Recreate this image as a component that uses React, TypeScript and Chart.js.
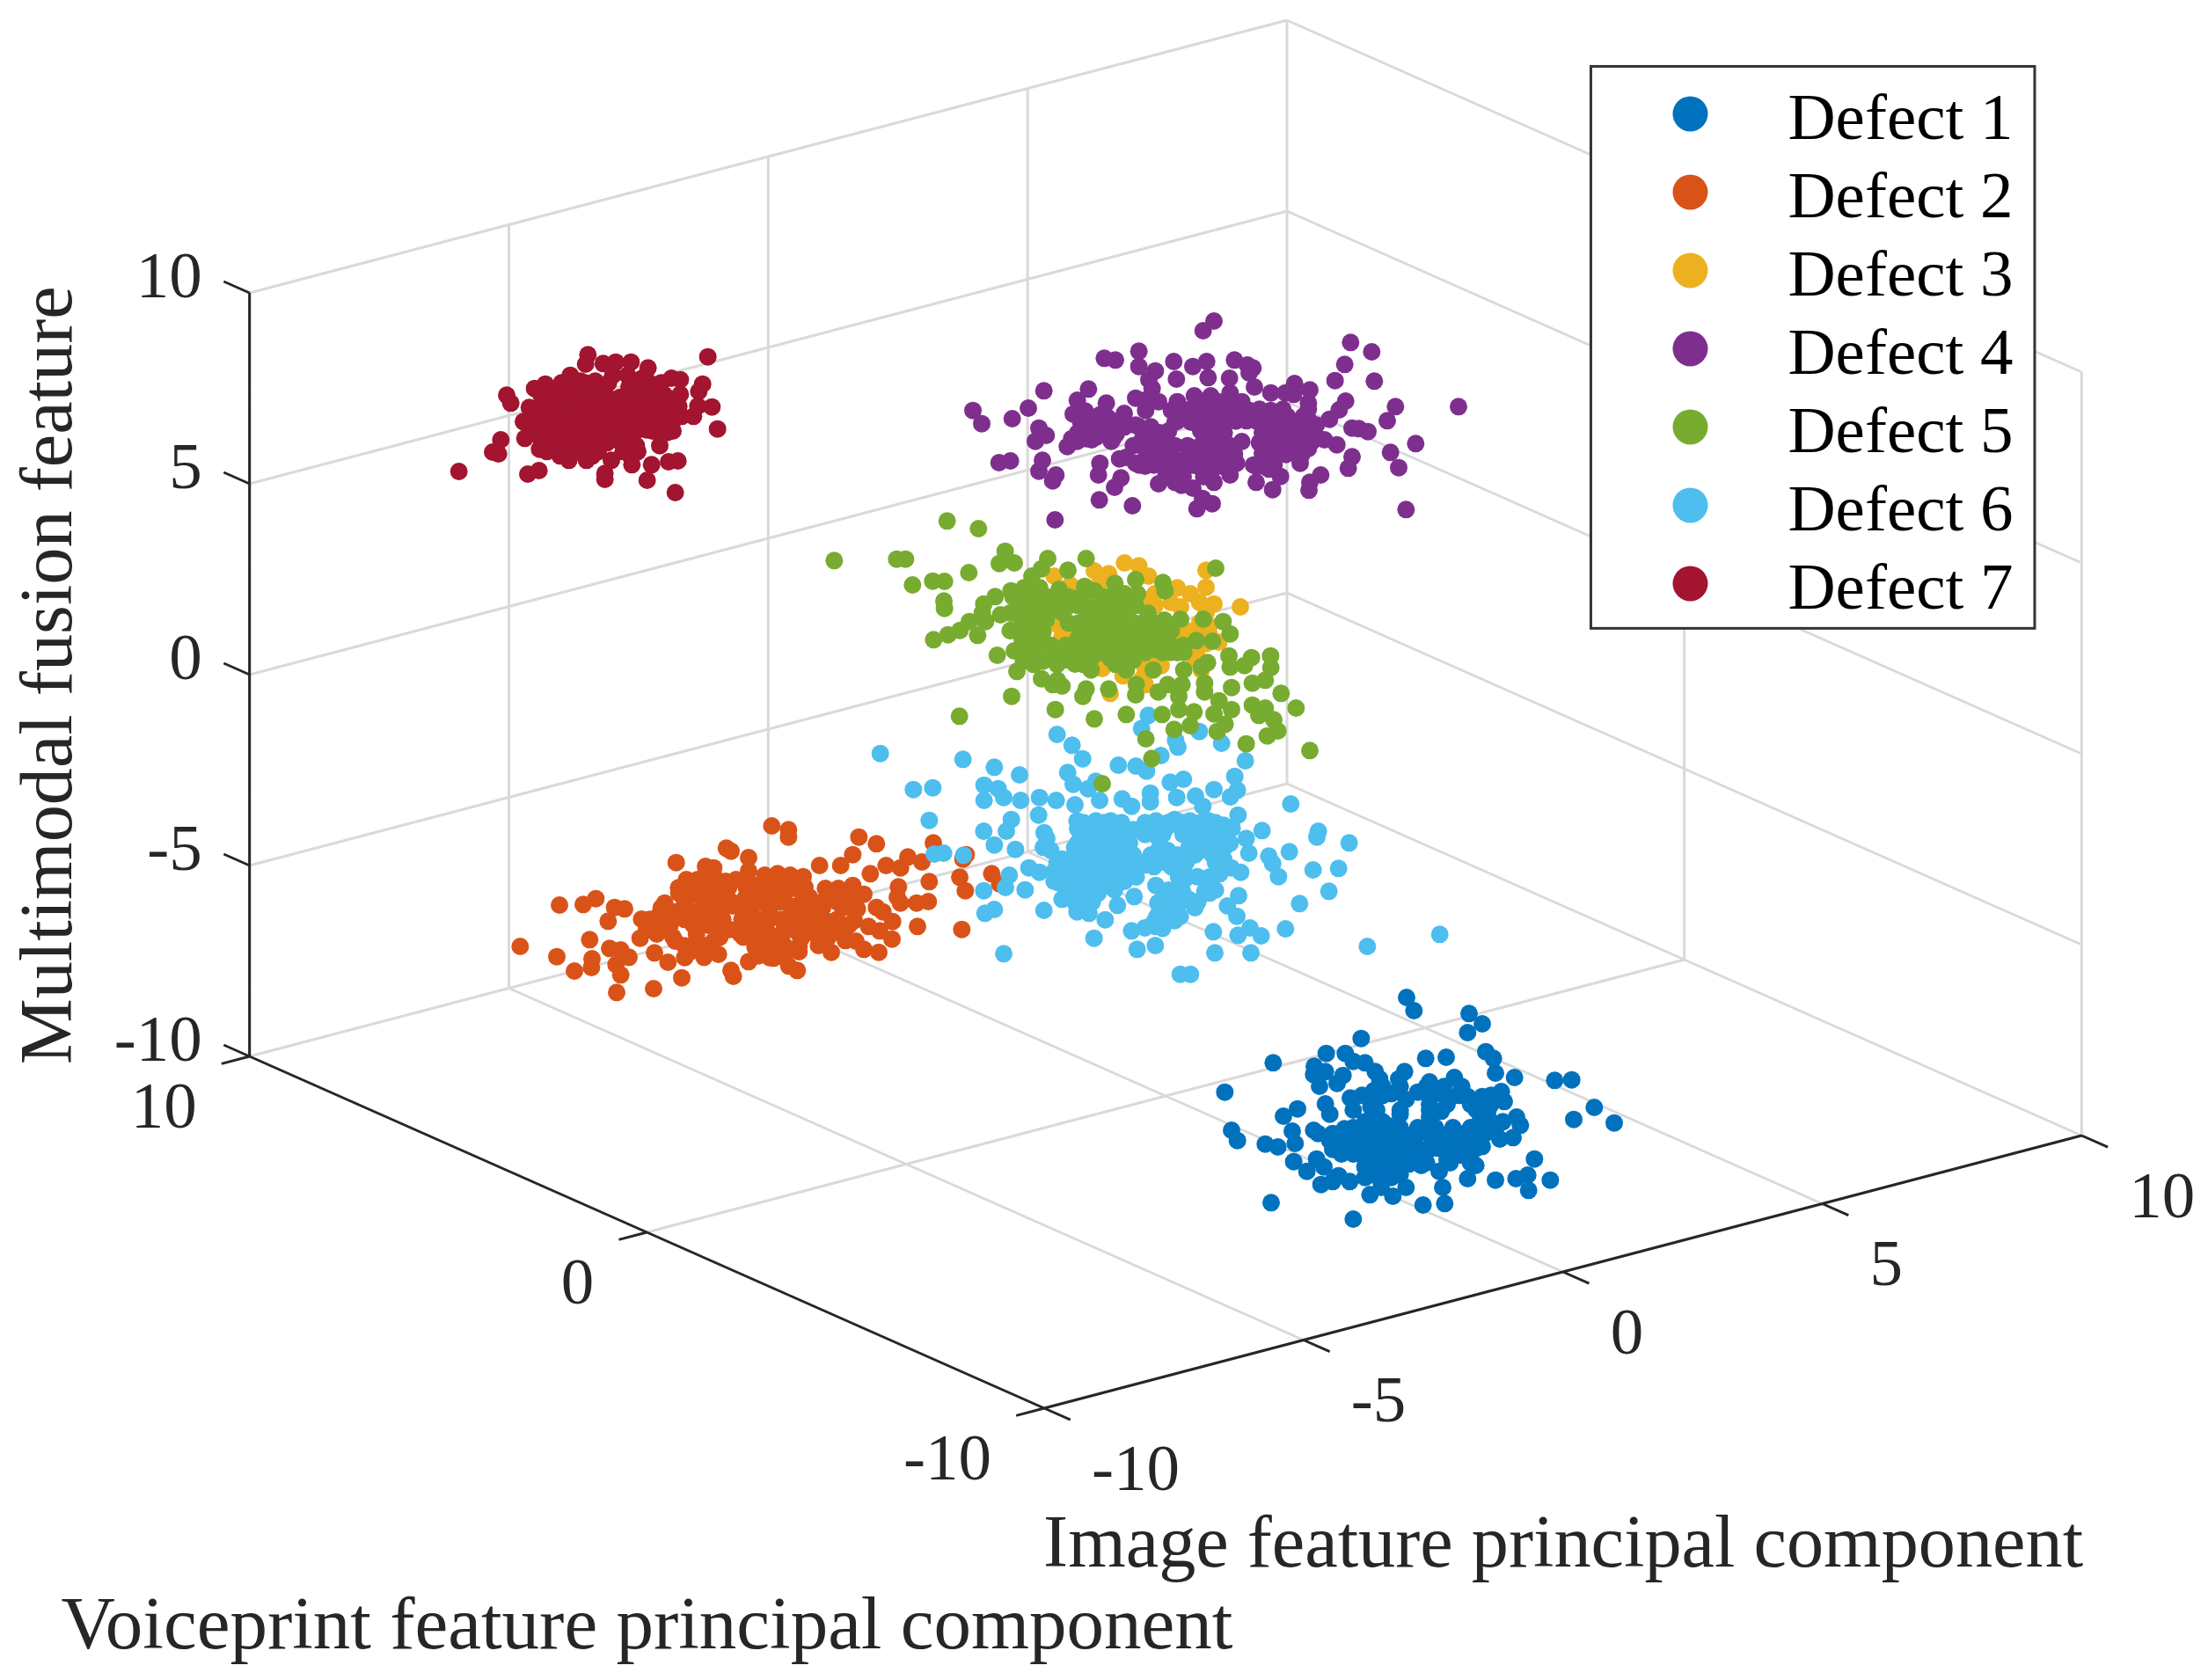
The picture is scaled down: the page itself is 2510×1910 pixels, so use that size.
import React, { useEffect, useRef } from "react";
import { Chart, registerables } from "chart.js";

Chart.register(...registerables);

// A 3-D scatter seen from a fixed camera: only each point's projection can be read
// off the picture, so the series hold view-plane values (H across, V up, about the cube centre).
// The cube, its grid and its ticks are real feature values passed through project().
const seriesNames = ["Defect 1", "Defect 2", "Defect 3", "Defect 4", "Defect 5", "Defect 6", "Defect 7"];
const seriesColors = ["#0072BD", "#D95319", "#EDB120", "#7E2F8E", "#77AC30", "#4DBEEE", "#A2142F"];
const seriesOrder = [3, 3, 3, 3, 1, 2, 3];

const xTicks = [-10, -5, 0, 5, 10];
const yTicks = [-10, 0, 10];
const zTicks = [-10, -5, 0, 5, 10];
const xTitle = "Image feature principal component";
const yTitle = "Voiceprint feature principal component";
const zTitle = "Multimodal fusion feature";

const defect1H = [822,847,1035,1080,1030,667,548,613,367,887,957,1092,1118,1125,1190,1327,1385,507,545,505,525,585,605,640,680,715,730,815,795,985,900,1145,1155,202,630,545,560,450,402,1462,1392,1530,1197,1210,1185,1140,1125,225,245,340,383,432,442,505,437,515,540,482,530,570,590,628,697,775,820,735,878,952,945,933,1030,1058,1125,1195,1235,1238,1312,1258,872,360,640,1080,610,710,770,820,700,800,860,920,970,1030,1080,1080,1070,900,940,710,760,650,700,760,820,880,940,1000,1040,560,610,570,670,730,790,850,900,970,1010,680,730,780,830,730,
  740,800,890,950,1010, 900,960,1040,1110, 680,740,1110,1150, 520,570,680,730,790,850,910,970,1020,1090, 620,680,740,810,860,930,1020,1060, 700,760,890,970,1040, 680,770,
  670,740,900,1000,1110, 640,720,800,900,1060,1100, 640,700,800,860,920,980,1040,1100, 590,640,730,790,850,910,970,1030,1070, 600,640,700,760,820,880,1040, 700,740,800,860,960, 700,750,800];
const defect1V = [-966,-1011,-1021,-1056,-1086,-1106,-1157,-1157,-1189,-1174,-1170,-1151,-1174,-1224,-1239,-1249,-1247,-1201,-1219,-1229,-1269,-1259,-1232,-1184,-1189,-1219,-1244,-1219,-1244,-1239,-1254,-1287,-1321,-1289,-1309,-1329,-1364,-1346,-1371,-1341,-1382,-1394,-1374,-1402,-1444,-1449,-1414,-1419,-1454,-1466,-1476,-1422,-1464,-1419,-1526,-1517,-1544,-1559,-1604,-1594,-1574,-1594,-1639,-1644,-1614,-1614,-1674,-1669,-1614,-1559,-1584,-1539,-1589,-1584,-1572,-1624,-1589,-1517,-1539,-1666,-1722,-1474,-1414,-1284,-1294,-1314,-1339,-1364,-1289,-1294,-1304,-1304,-1304,-1354,-1394,-1374,-1354,-1394,-1404,-1434,-1454,-1454,-1454,-1424,-1434,-1444,-1424,-1454,-1449,-1484,-1504,-1504,-1504,-1494,-1484,-1484,-1504,-1544,-1554,-1554,-1534,-1584,
  -1270,-1270,-1270,-1270,-1270, -1330,-1330,-1330,-1330, -1390,-1390,-1390,-1390, -1430,-1430,-1430,-1430,-1430,-1430,-1430,-1430,-1430,-1430, -1480,-1480,-1480,-1480,-1480,-1480,-1480,-1480, -1530,-1530,-1530,-1530,-1530, -1580,-1580,
  -1300,-1300,-1300,-1300,-1300, -1350,-1350,-1350,-1350,-1350,-1350, -1410,-1410,-1410,-1410,-1410,-1410,-1410,-1410, -1460,-1460,-1460,-1460,-1460,-1460,-1460,-1460,-1460, -1500,-1500,-1500,-1500,-1500,-1500,-1500, -1520,-1520,-1520,-1520,-1520, -1570,-1570,-1570];

const defect2H = [-1343,-1286,-1286,-1046,-986,-792,-1498,-1482,-1422,-1669,-1067,-1180,-1108,-953,-904,-879,-831,-680,-691,-806,-702,-683,-593,-566,-1943,-1986,-2067,-1879,-1845,-1901,-911,-915,-904,-849,-809,-986,-964,-931,-846,-695,-1964,-2201,-2076,-2016,-1958,-1956,-1896,-1858,-1830,-1874,-1858,-1872,-1746,-1650,-1743,-1697,-1574,-1525,-1482,-1474,-1422,-1337,-1285,-1256,-1302,-1184,-1140,-1092,-1056,-1029,-978,-933,-975,-1013,-1062,-1051,-1160,-1269,-1029,-1007,-1067,-1160,-1116,-1095,-1182,-1160,-1236,-1280,-1323,-1367,-1422,-1569,-1541,-1634,-1661,-1708,-1787,-1792,-1770,-1596,-1531,-1465,-1400,-1323,-1269,-1214,-1607,-1520,-1432,-1345,-1280,-1214,-1727,-1672,-1607,-1541,-1476,-1411,-1345,-1280,-1214,-1705,-1514,-1487,-1422,-1356,-1672,-1607,-1541,-1400,-1345,-1389,
  -1560,-1490,-1430,-1370,-1290,-1230, -1640,-1560,-1480,-1390,-1320,-1240,-1170,-1120,-1060, -1760,-1700,-1640,-1570,-1510,-1445,-1380,-1310,-1245,-1185,-1120, -1735,-1600,-1450,-1390,-1310,-1250,-1195,-1100, -1640,-1570,-1350,-1300,-1250, -1640,-1350,-1300,
  -1620,-1560,-1500,-1440,-1340,-1250, -1660,-1580,-1500,-1400,-1300,-1130, -1720,-1640,-1580,-1510,-1440,-1350,-1250,-1170,-1100, -1750,-1690,-1610,-1560,-1440,-1370,-1300,-1240,-1130,-1080, -1680,-1520,-1440,-1370,-1310,-1240,-1150, -1620,-1560,-1360,-1310,-1250];
const defect2V = [-381,-394,-419,-419,-442,-439,-457,-467,-489,-506,-479,-516,-516,-516,-524,-487,-504,-479,-494,-571,-556,-602,-544,-579,-629,-649,-651,-659,-664,-706,-589,-624,-644,-644,-639,-659,-674,-707,-724,-734,-769,-792,-827,-876,-864,-834,-799,-804,-829,-854,-889,-949,-936,-899,-814,-846,-829,-819,-874,-894,-844,-832,-859,-874,-792,-789,-812,-772,-774,-802,-812,-767,-739,-724,-704,-664,-744,-734,-614,-544,-584,-594,-594,-634,-644,-704,-554,-549,-544,-549,-534,-519,-524,-564,-592,-644,-699,-764,-734,-564,-564,-564,-584,-594,-594,-624,-614,-614,-624,-634,-654,-674,-684,-674,-674,-674,-654,-684,-694,-704,-704,-734,-719,-734,-734,-744,-774,-784,-774,-794,-774,-824,
  -590,-590,-590,-590,-590,-590, -640,-640,-640,-640,-640,-640,-640,-640,-640, -700,-700,-700,-700,-700,-700,-700,-700,-700,-700,-700, -750,-750,-750,-750,-750,-750,-750,-750, -790,-790,-790,-790,-790, -830,-830,-830,
  -570,-570,-570,-570,-570,-570, -610,-610,-610,-610,-610,-610, -660,-660,-660,-660,-660,-660,-660,-660,-660, -720,-720,-720,-720,-720,-720,-720,-720,-720,-720, -760,-760,-760,-760,-760,-760,-760, -810,-810,-810,-810,-810];

const defect3H = [-140,-91,-243,-194,-58,-380,-325,-222,138,138,40,84,-36,18,51,116,165,255,138,-36,-342,-69,116,149,62,40,94,182,105,138,100,122,-91,-69,-80,-216,-145,-189,-69,-369,-353,-331,-243,-113,-47,-15,149];
const defect3V = [516,506,489,479,471,471,441,451,491,433,431,411,411,381,366,381,376,366,346,371,421,391,311,301,291,271,281,246,211,241,186,151,186,151,121,156,131,71,101,306,266,261,381,311,181,166,271];

const defect4H = [165,128,-91,-209,-171,631,703,611,-91,-35,28,93,140,145,235,279,298,285,578,712,-415,-263,-57,37,218,303,359,440,492,409,437,-46,-301,-202,-102,487,487,614,592,784,999,-657,-468,-523,-627,-315,-274,-224,-196,-141,559,756,-432,-407,-444,-426,636,659,690,853,-335,-301,-252,-185,584,767,636,-420,-568,-529,-432,-374,-385,-224,-229,-157,-152,-174,623,795,529,492,489,-226,-113,-377,820,107,159,126,-24,32,54,93,165,220,309,365,392,459,464,-24,20,-68,-102,-46,-2,32,98,154,98,154,220,231,287,359,87,143,198,276,342,398,453,514,453,514,542,-235,-213,-168,-146,-80,-24,32,20,-35,-102,-135,32,120,176,220,143,198,242,154,320,365,387,331,309,353,487,442,65,-268,-235,
  60,115,175,235,300,355,415,470, 10,120,180,360,420,480, 40,125,180,260,-70, -110,-55,75,165,340,410,470, -65,-10,85,140,200,235,350,410, -70,-5,110,190,330, -290,-250,-200,-160,-300,
  60,120,190,260,320,400, 40,110,170,240,310,370,430,490, -60,-20,140,200,330,390,450,500, -60,-10,130,190,260,380,430,500, -50,20,90,160,220,330,390,440, -90,-40,40,90,150,210,300,370, 0,60,130, -200,-140,-90,-50, -320,-270,-180];
const defect4V = [1341,1308,1238,1214,1208,1268,1236,1193,1186,1171,1203,1186,1203,1148,1208,1191,1181,1164,1138,1136,1103,1109,1141,1143,1146,1116,1096,1128,1106,1096,1091,1111,1071,1061,1078,1061,1041,1068,1038,1049,1049,1036,1044,1008,991,1024,1034,1021,1011,1026,1006,1001,976,951,931,951,976,974,964,923,913,931,936,931,919,893,878,866,858,864,829,816,796,856,816,871,806,774,839,841,816,791,764,731,711,663,698,701,718,736,786,791,781,771,791,816,791,766,811,856,886,1066,1036,1036,986,966,946,996,1086,1086,1046,1036,1096,1046,1036,1036,996,986,996,1001,986,976,991,986,946,946,936,986,956,956,1006,936,906,916,866,856,856,876,826,916,936,916,866,876,856,826,926,936,906,876,846,836,906,896,866,986,946,
  1016,1016,1016,1016,1016,1016,1016,1016, 966,966,966,966,966,966, 1066,1066,1066,1066,1071, 916,916,916,916,916,916,916, 886,886,886,886,886,886,886,886, 846,846,846,846,846, 1000,1000,1000,980,960,
  1040,1040,1040,1040,1040,1040, 1000,1000,1000,1000,1000,1000,1000,1000, 960,960,960,960,960,960,960,960, 930,930,930,930,930,930,930,930, 890,890,890,890,890,890,890,890, 850,850,850,850,850,850,850,850, 810,810,810, 980,980,980,980, 940,940,940];

const defect5H = [-1130,-745,-638,-917,-887,-547,-567,-516,-402,-271,171,-333,-671,-863,-794,-754,-102,-9,-2,-173,-423,-456,-756,-754,-581,-620,-625,-563,-669,-701,-742,-791,-641,-614,-527,-483,-429,-363,-276,-243,-189,-140,-96,51,129,196,220,160,105,-527,-494,-574,-516,-485,-507,-423,-385,-353,-369,-282,-271,-194,-102,-100,-42,-25,-525,-703,-376,-243,-134,-12,29,84,97,45,-67,-47,-216,275,492,445,394,358,293,216,220,269,359,143,122,340,296,225,133,133,182,165,225,203,176,296,340,318,369,383,347,45,56,62,7,-472,-418,-505,-451,-472,-418,-407,-451,-407,-363,-418,-320,-309,-254,-254,-189,-134,-145,-91,-36,18,62,-15,-80,-134,-189,-243,-298,-331,-265,-200,-134,-58,-4,-36,-298,-243,-178,-124,-374,-102,-385,
  -520,-470,-430,-330,-290,-210,-160, -530,-470,-400,-350,-270,-210,-150,-60, -530,-450,-290,-240,-190,-130,-90,-50,-10,20, -490,-440,-390,-340,-290,-240,-180,-130,-80,-30,20,60, -470,-380,-340,-280,-160,-110,
  -500,-450,-400,-330,-270,-210,-150, -480,-430,-300,-240,-170,-100,-30, -490,-420,-280,-220,-160,-100,-50,0, -460,-390,-340,-270,-220,-170,-110,-70,-10,40, -450,-370,-280,-170];
const defect5V = [524,659,633,529,529,556,514,516,531,531,498,491,483,441,454,453,459,449,421,446,496,471,386,361,401,376,346,339,316,286,271,254,269,316,421,431,431,426,436,421,401,411,411,324,324,316,274,249,251,286,291,201,216,181,146,121,101,96,116,61,86,86,66,101,151,76,61,-7,16,-16,-1,-1,-52,-39,8,16,-84,-151,-237,-101,-124,21,71,199,193,199,161,166,159,176,161,116,106,91,76,106,46,1,16,-34,-59,31,21,-4,-19,-57,-74,61,101,151,101,381,381,341,331,291,281,321,251,231,211,181,211,171,151,191,191,151,201,221,221,211,211,261,271,251,241,251,261,311,311,301,301,321,321,291,371,361,361,361,371,371,401,
  400,400,400,400,400,400,400, 345,345,345,345,345,345,345,345, 285,285,285,285,285,285,285,285,285,285, 235,235,235,235,235,235,235,235,235,235,235,235, 185,185,185,185,185,185,
  370,370,370,370,370,370,370, 310,310,310,310,310,310,310, 260,260,260,260,260,260,260,260, 210,210,210,210,210,210,210,210,210,210, 170,170,170,170];

const defect6H = [-973,-691,-584,-498,-370,-319,-283,-161,-101,-65,-16,-82,115,191,42,34,272,236,245,221,165,-860,-794,-619,-571,-619,-552,-494,-430,-373,-334,-315,-264,-238,-225,-309,-148,-116,-52,-52,16,61,38,102,127,-806,-526,-543,-620,-584,-512,-433,427,247,227,329,521,516,626,422,352,365,284,275,256,385,503,590,557,457,249,211,243,288,247,326,291,409,163,168,688,935,-789,-757,-689,-533,-546,-620,-479,-616,-584,-415,-552,-244,-206,-353,-302,-261,-97,-35,-116,-71,50,85,-466,-430,-414,-417,-174,-164,-107,-59,-302,-238,-187,-276,-225,-174,-110,-33,31,83,147,198,172,108,-33,-123,-251,-187,-123,-302,-353,-392,-379,-315,-251,-187,-123,-71,-366,-302,-264,-276,-33,-26,-7,31,-33,44,108,134,83,44,70,121,198,224,185,-33,6,83,-405,
  -300,-250,-200,-150,-70,0,55,90,150, -300,-250,-200,130,170,220, -370,-310,-250,-210,-150,-90,-40,0,70,170, -340,-280,-220,-160,-100,75,150, -340,-280,-230,10,60,150, -290,0,40,100, -20,20,-40,-10,
  -280,-210,-150,-70,10,60,120,170, -290,-250,-190,-140,-70,-10,60,120,190, -310,-260,-210,-160,-20,80,150,200, -280,-230,-170,-110,-50,40,100,160, -340,-280,-220,-160,-100,-40,20, -380,-320,-260,-200,-140,60, -300,-240,10,170, -310,-250,-20,50,110, -30,10,50];
const defect6V = [-134,-154,-181,-207,-69,-106,-152,-174,-177,-194,-141,-49,-59,-99,-112,-89,-159,-212,-259,-282,-257,-257,-251,-242,-254,-294,-284,-294,-284,-294,-199,-239,-254,-229,-294,-309,-289,-314,-269,-299,-232,-222,-284,-279,-314,-362,-359,-399,-399,-446,-461,-344,-306,-344,-389,-397,-399,-419,-439,-469,-484,-509,-474,-424,-539,-554,-531,-526,-604,-646,-619,-654,-689,-729,-754,-756,-814,-732,-742,-814,-792,-751,-477,-474,-481,-549,-591,-602,-599,-679,-666,-669,-817,-764,-701,-631,-674,-679,-802,-789,-739,-729,-887,-887,-524,-539,-404,-454,-599,-652,-622,-4,-364,-364,-364,-414,-414,-434,-394,-364,-359,-364,-364,-379,-424,-394,-414,-439,-464,-484,-494,-474,-494,-464,-534,-524,-524,-534,-544,-514,-574,-584,-624,-644,-584,-644,-694,-704,-724,-554,-554,-604,-634,-604,-484,-464,-494,-524,-544,-474,-464,-424,-424,
  -390,-390,-390,-390,-390,-390,-390,-390,-390, -440,-440,-440,-440,-440,-440, -505,-505,-505,-505,-505,-505,-505,-505,-505,-505, -555,-555,-555,-555,-555,-555,-555, -610,-610,-610,-610,-610,-610, -660,-660,-660,-660, -670,-670,-710,-730,
  -370,-370,-370,-370,-370,-370,-370,-370, -410,-410,-410,-410,-410,-410,-410,-410,-410, -455,-455,-455,-455,-455,-455,-455,-455, -480,-480,-480,-480,-480,-480,-480,-480, -520,-520,-520,-520,-520,-520,-520, -570,-570,-570,-570,-570,-570, -600,-600,-600,-600, -640,-640,-640,-640,-640, -690,-690,-690];

const defect7H = [-1970,-1978,-1918,-1875,-1823,-1765,-1561,-2030,-1685,-1655,-1579,-1592,-1655,-2152,-2115,-2247,-2233,-2170,-1595,-1547,-1610,-1675,-1528,-2190,-2185,-2267,-2295,-2275,-2410,-2135,-2065,-2035,-1975,-1890,-1820,-1753,-1695,-1663,-1725,-1700,-2175,-2137,-1912,-1912,-1768,-1672,-2095,-2045,-1995,-1945,-1885,-1835,-1785,-1725,-2105,-2045,-1985,-1925,-1860,-1805,-1745,-1695,-2145,-2085,-2025,-1965,-1905,-1845,-1785,-1725,-2135,-2075,-2015,-1955,-1895,-1835,-1775,-1720,-2085,-2025,-1965,-1905,-1835,-1805,-1955,-1825,
  -2070,-2015,-1960,-1915,-1830,-1770,-1730, -2125,-2075,-2015,-1955,-1895,-1835,-1775,-1720,-1670, -2115,-2055,-1995,-1935,-1875,-1815,-1755,-1695,-1650, -2160,-2105,-2045,-1985,-1925,-1865,-1805,-1750,-1680, -2110,-2050,-1995,-1935,-1850,-1800,
  -2060,-2020,-1980,-1900,-1800,-1760,-1720, -2130,-2070,-2030,-1990,-1950,-1910,-1830,-1790,-1750,-1710, -2130,-2080,-2020,-1980,-1940,-1880,-1820,-1760,-1700,-1660, -2150,-2090,-2030,-1970,-1910,-1850,-1790,-1730,-1670, -2130,-2070,-2010,-1950,-1890,-1830,-1770,-1710, -2100,-2040,-1980,-1920,-1860];
const defect7V = [1226,1194,1196,1201,1201,1181,1219,1156,1146,1141,1126,1101,1091,1111,1126,1088,1061,1046,1051,1048,1016,1026,973,998,941,936,894,888,828,904,881,866,866,866,851,851,861,864,916,961,819,831,821,801,798,756,1096,1106,1136,1136,1156,1156,1146,1126,1046,1056,1076,1086,1081,1096,1076,1076,986,996,1006,1026,1026,1036,1026,1016,946,946,956,966,976,976,996,981,906,921,916,926,931,916,881,881,
  1116,1116,1116,1116,1116,1116,1116, 1066,1066,1066,1066,1066,1066,1066,1066,1066, 1016,1016,1016,1016,1016,1016,1016,1016,1016, 966,966,966,966,966,966,966,966,966, 896,896,896,896,896,896,
  1130,1130,1130,1130,1130,1130,1130, 1090,1090,1090,1090,1090,1090,1090,1090,1090,1090, 1050,1050,1050,1050,1050,1050,1050,1050,1050,1050, 1010,1010,1010,1010,1010,1010,1010,1010,1010, 970,970,970,970,970,970,970,970, 930,930,930,930,930];

const seriesH = [defect1H, defect2H, defect3H, defect4H, defect5H, defect6H, defect7H];
const seriesV = [defect1V, defect2V, defect3V, defect4V, defect5V, defect6V, defect7V];

// Camera: how one feature unit on each axis moves across the view plane.
const project = (x: number, y: number, z: number) => ({
  x: 176.9 * x - 135.5 * y,
  y: 46.5 * x + 60 * y + 130.2 * z,
});

const GAP = { x: NaN, y: NaN };
const seg = (a: number[], b: number[]) => [project(a[0], a[1], a[2]), project(b[0], b[1], b[2]), GAP];

const gridLine: any[] = [];
xTicks.forEach((t) => {
  gridLine.push(...seg([t, 10, -10], [t, -10, -10]));
  gridLine.push(...seg([t, 10, -10], [t, 10, 10]));
});
yTicks.forEach((t) => {
  gridLine.push(...seg([-10, t, -10], [10, t, -10]));
  gridLine.push(...seg([10, t, -10], [10, t, 10]));
});
zTicks.forEach((t) => {
  gridLine.push(...seg([-10, 10, t], [10, 10, t]));
  gridLine.push(...seg([10, 10, t], [10, -10, t]));
});

const axisLine: any[] = [
  ...seg([-10, 10, -10], [-10, 10, 10]),
  ...seg([-10, 10, -10], [-10, -10, -10]),
  ...seg([-10, -10, -10], [10, -10, -10]),
];
xTicks.forEach((t) => axisLine.push(...seg([t, -10, -10], [t, -10.66, -10])));
yTicks.forEach((t) => axisLine.push(...seg([-10, t, -10], [-10.54, t, -10])));
zTicks.forEach((t) => axisLine.push(...seg([-10, 10, t], [-10, 10.65, t])));

const SERIF = '"Liberation Serif"';
const TICK_COLOR = "#262626";

const cubePlugin = {
  id: "cubeText",
  afterDatasetsDraw(chart: any) {
    const { ctx, scales } = chart;
    const at = (x: number, y: number, z: number) => {
      const p = project(x, y, z);
      return { px: scales.x.getPixelForValue(p.x), py: scales.y.getPixelForValue(p.y) };
    };
    ctx.save();
    ctx.textBaseline = "middle";
    ctx.fillStyle = TICK_COLOR;
    ctx.font = `75px ${SERIF}`;
    ctx.textAlign = "left";
    xTicks.forEach((t) => {
      const { px, py } = at(t, -10, -10);
      ctx.fillText(String(t), px + 54, py + 73);
    });
    ctx.textAlign = "right";
    yTicks.forEach((t) => {
      const { px, py } = at(-10, t, -10);
      ctx.fillText(String(t), px - 60, py + 61);
    });
    zTicks.forEach((t) => {
      const { px, py } = at(-10, 10, t);
      ctx.fillText(String(t), px - 54, py - 15);
    });

    ctx.textAlign = "center";
    const w = chart.width;
    const h = chart.height;
    ctx.font = `84.3px ${SERIF}`;
    ctx.fillText(xTitle, 0.708 * w, 0.921 * h);
    ctx.font = `85px ${SERIF}`;
    ctx.fillText(yTitle, 0.293 * w, 0.9695 * h);
    ctx.font = `84.3px ${SERIF}`;
    ctx.save();
    ctx.translate(0.0235 * w, 0.402 * h);
    ctx.rotate(-Math.PI / 2);
    ctx.fillText(zTitle, 0, 0);
    ctx.restore();

    // legend box
    const L = 0.7205 * w, T = 0.0395 * h, R = 0.9215 * w, B = 0.374 * h;
    ctx.fillStyle = "#ffffff";
    ctx.fillRect(L, T, R - L, B - T);
    ctx.strokeStyle = "#333333";
    ctx.lineWidth = 3;
    ctx.strokeRect(L, T, R - L, B - T);
    ctx.textAlign = "left";
    ctx.font = `75px ${SERIF}`;
    seriesNames.forEach((name, i) => {
      const cy = T + 54 + i * 89;
      ctx.beginPath();
      ctx.arc(L + 113, cy, 20, 0, Math.PI * 2);
      ctx.fillStyle = seriesColors[i];
      ctx.fill();
      ctx.fillStyle = "#000000";
      ctx.fillText(name, L + 224, cy + 8.5);
    });
    ctx.restore();
  },
};

export default function App() {
  const ref = useRef<HTMLCanvasElement>(null);
  useEffect(() => {
    document.body.style.margin = "0";
    const datasets: any[] = [
      { label: "grid", data: gridLine, showLine: true, pointRadius: 0, borderColor: "#d9d9d9", borderWidth: 3, order: 11 },
      { label: "axes", data: axisLine, showLine: true, pointRadius: 0, borderColor: "#262626", borderWidth: 3, order: 10 },
    ];
    seriesNames.forEach((name, i) => {
      datasets.push({
        label: name,
        data: seriesH[i].map((h, k) => ({ x: h, y: seriesV[i][k] })),
        backgroundColor: seriesColors[i],
        borderColor: seriesColors[i],
        borderWidth: 0,
        pointRadius: 10,
        order: seriesOrder[i],
      });
    });
    const chart = new Chart(ref.current as HTMLCanvasElement, {
      type: "scatter",
      data: { datasets },
      options: {
        animation: false,
        responsive: false,
        layout: { padding: 0, autoPadding: false },
        plugins: { legend: { display: false }, title: { display: false }, tooltip: { enabled: false } },
        scales: {
          x: { type: "linear", display: false, min: -3975, max: 3555 },
          y: { type: "linear", display: false, min: -3294, max: 2436 },
        },
      },
      plugins: [cubePlugin],
    } as any);
    return () => chart.destroy();
  }, []);
  return <canvas ref={ref} width={2510} height={1910} style={{ display: "block" }} />;
}
